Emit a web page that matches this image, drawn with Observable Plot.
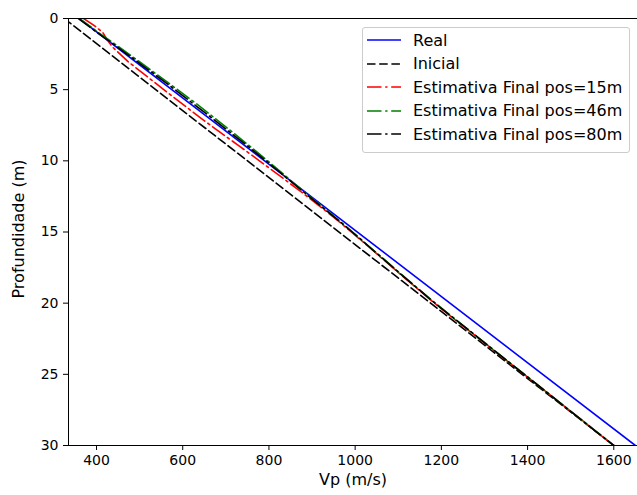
<!DOCTYPE html>
<html>
<head>
<meta charset="utf-8">
<script src="https://cdn.jsdelivr.net/npm/d3@7"></script>
<script src="https://cdn.jsdelivr.net/npm/@observablehq/plot@0.6"></script>
<style>
  html, body { margin: 0; padding: 0; background: #fff; }
  #wrap { position: relative; width: 637px; height: 495px; font-family: "DejaVu Sans", sans-serif; }
  #legend { position: absolute; left: 362px; top: 27px; width: 266px; height: 124px;
    border: 1px solid #cccccc; border-radius: 3px; background: rgba(255,255,255,0.8); }
  .row { position: absolute; left: 0; height: 20px; display: flex; align-items: center; }
  .row svg { margin-left: 4px; }
  .row span { margin-left: 12px; font-size: 16px; color: #000; white-space: nowrap; }
</style>
</head>
<body>
<div id="wrap"></div>
<script>
// ---- data ----
const xTicks = [400, 600, 800, 1000, 1200, 1400, 1600];
const yTicks = [0, 5, 10, 15, 20, 25, 30];

const realDepth = [0, 30];
const realVp = [360, 1650];

const inicialDepth = [0, 30];
const inicialVp = [325, 1600];

const estDepth = [0, 0.5, 1, 1.5, 2, 3, 4, 5, 6, 7, 8, 9, 10, 11, 12, 13, 14, 15, 16, 17, 18, 19, 20, 21, 22, 23, 24, 25, 26, 27, 28, 29, 30];
const est15 = [370, 395, 415, 425, 437, 472, 514, 556, 599, 642, 687, 733, 778, 823, 867, 910, 952, 991, 1030, 1068, 1106, 1145, 1184, 1225, 1267, 1309, 1350, 1392, 1434, 1475, 1517, 1558, 1600];
const est46 = [360, 383, 405, 429, 452, 498, 543, 588, 632, 674, 716, 757, 797, 836, 875, 915, 955, 994, 1032, 1070, 1108, 1147, 1186, 1227, 1268, 1310, 1351, 1393, 1434, 1476, 1517, 1559, 1600];
const est80 = [358, 380, 402, 425, 448, 493, 538, 582, 625, 668, 710, 752, 793, 833, 873, 913, 954, 993, 1031, 1069, 1107, 1146, 1185, 1226, 1268, 1309, 1351, 1392, 1434, 1475, 1517, 1558, 1600];

const seriesNames = ["Real", "Inicial", "Estimativa Final pos=15m", "Estimativa Final pos=46m", "Estimativa Final pos=80m"];
const seriesColors = ["#0000ff", "#000000", "#ff0000", "#008000", "#000000"];
const seriesDash = [null, "8.5,3.7", "14.5,3.7,2.3,3.7", "14.5,3.7,2.3,3.7", "14.5,3.7,2.3,3.7"];

const toRows = (ds, vs) => ds.map((d, i) => ({depth: d, vp: vs[i]}));
const seriesData = [
  toRows(realDepth, realVp),
  toRows(inicialDepth, inicialVp),
  toRows(estDepth, est15),
  toRows(estDepth, est46),
  toRows(estDepth, est80)
];

const W = 637, H = 495;
const ml = 68, mr = 0, mt = 18, mb = 50;

const lineMarks = seriesData.map((data, i) => Plot.line(data, {
  x: "vp", y: "depth", stroke: seriesColors[i], strokeWidth: 1.6,
  strokeDasharray: seriesDash[i] || undefined, clip: true
}));

const chart = Plot.plot({
  width: W, height: H,
  marginLeft: ml, marginRight: mr, marginTop: mt, marginBottom: mb,
  style: { fontFamily: "DejaVu Sans, sans-serif", fontSize: "14px", color: "#000", background: "#fff" },
  x: { domain: [335, 1655] },
  y: { domain: [0, 30], reverse: true },
  marks: [
    ...lineMarks,
    Plot.axisX({ ticks: xTicks, tickSize: 5, tickPadding: 5, label: null, tickFormat: d => String(d) }),
    Plot.axisY({ ticks: yTicks, tickSize: 5, tickPadding: 5, label: null, tickFormat: d => String(d) }),
    Plot.ruleY([0], { stroke: "#000", strokeWidth: 1 }),
    Plot.ruleY([30], { stroke: "#000", strokeWidth: 1 }),
    Plot.ruleX([335], { stroke: "#000", strokeWidth: 1 }),
    Plot.text(["Vp (m/s)"], { text: d => d, frameAnchor: "bottom", textAnchor: "middle", dy: 39, fontSize: 16 }),
    Plot.text(["Profundidade (m)"], { text: d => d, frameAnchor: "left", textAnchor: "middle", rotate: -90, dx: -50, dy: -3, fontSize: 16 })
  ]
});

const wrap = document.getElementById("wrap");
wrap.appendChild(chart);

// legend
const legend = document.createElement("div");
legend.id = "legend";
const rowCenters = [12, 35.5, 59, 82.5, 106];
seriesNames.forEach((name, i) => {
  const row = document.createElement("div");
  row.className = "row";
  row.style.top = (rowCenters[i] - 10) + "px";
  const ns = "http://www.w3.org/2000/svg";
  const svg = document.createElementNS(ns, "svg");
  svg.setAttribute("width", 34);
  svg.setAttribute("height", 20);
  const ln = document.createElementNS(ns, "line");
  ln.setAttribute("x1", 0); ln.setAttribute("x2", 34);
  ln.setAttribute("y1", 10); ln.setAttribute("y2", 10);
  ln.setAttribute("stroke", seriesColors[i]);
  ln.setAttribute("stroke-width", 1.6);
  if (seriesDash[i]) ln.setAttribute("stroke-dasharray", seriesDash[i]);
  svg.appendChild(ln);
  const span = document.createElement("span");
  span.textContent = name;
  row.appendChild(svg);
  row.appendChild(span);
  legend.appendChild(row);
});
wrap.appendChild(legend);
</script>
</body>
</html>
